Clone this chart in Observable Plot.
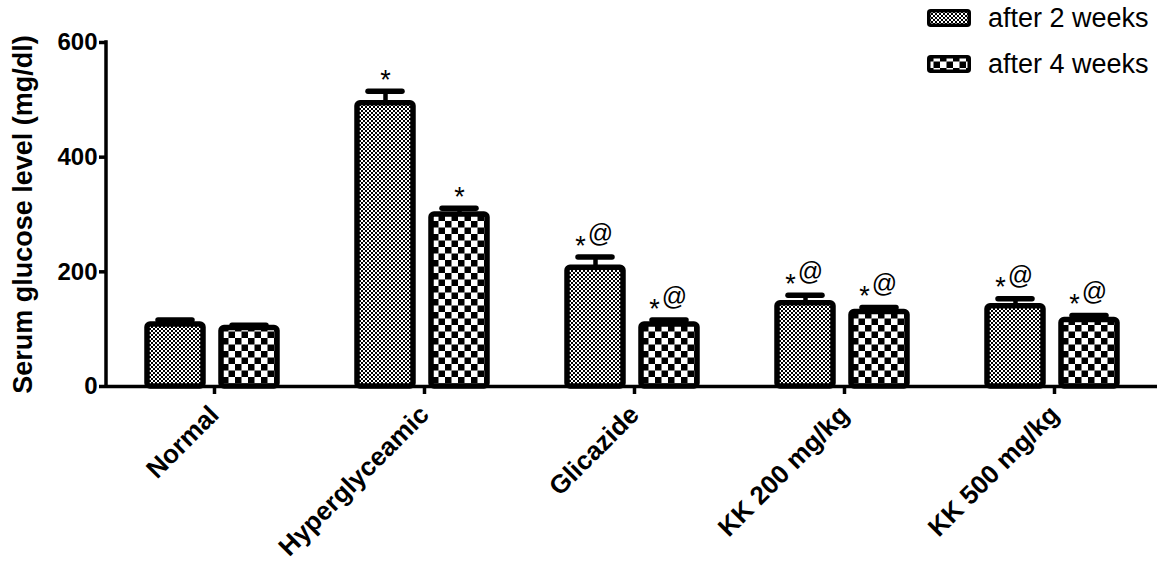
<!DOCTYPE html>
<html><head><meta charset="utf-8">
<script src="https://cdn.jsdelivr.net/npm/d3@7"></script>
<script src="https://cdn.jsdelivr.net/npm/@observablehq/plot@0.6"></script>
<style>
body{margin:0;background:#fff;}
#wrap{position:relative;width:1165px;height:567px;font-family:"Liberation Sans",Arial,sans-serif;overflow:hidden;}
#legend .sw{position:absolute;}
#legend .lb{position:absolute;font-size:27px;color:#000;white-space:nowrap;line-height:1;}
#chart svg g[aria-label="y-axis label"] text{font-size:27px;}
</style></head><body>
<svg width="0" height="0" style="position:absolute">
<defs>
<pattern id="fine" patternUnits="userSpaceOnUse" width="4" height="4">
<rect width="4" height="4" fill="#fff"/><rect width="2" height="2" fill="#000"/><rect x="2" y="2" width="2" height="2" fill="#000"/>
</pattern>
<pattern id="coarse" patternUnits="userSpaceOnUse" width="13" height="13">
<rect width="13" height="13" fill="#fff"/><rect width="6.5" height="6.5" fill="#000"/><rect x="6.5" y="6.5" width="6.5" height="6.5" fill="#000"/>
</pattern>
</defs></svg>
<div id="wrap"><div id="chart"></div><div id="legend"></div></div>
<script>
const groups = ["Normal", "Hyperglyceamic", "Glicazide", "KK 200 mg/kg", "KK 500 mg/kg"];
const periods = ["after 2 weeks", "after 4 weeks"];
const week2 = [108, 494, 207, 145, 140];
const week2Err = [8, 21, 19, 14, 13];
const week4 = [102, 300, 108, 130, 116];
const week4Err = [5, 11, 8, 8, 8];
const week2Star = ["", "*", "*", "*", "*"];
const week2At = ["", "", "@", "@", "@"];
const week4Star = ["", "*", "*", "*", "*"];
const week4At = ["", "", "@", "@", "@"];
const yTicks = [0, 200, 400, 600];
const patterns = ["url(#fine)", "url(#coarse)"];

const rows = [];
groups.forEach((g, i) => {
  rows.push({group: g, period: periods[0], value: week2[i], err: week2Err[i], star: week2Star[i], at: week2At[i]});
  rows.push({group: g, period: periods[1], value: week4[i], err: week4Err[i], star: week4Star[i], at: week4At[i]});
});
const errTop = d => d.value + d.err;
const starOnly = rows.filter(d => d.star && !d.at);
const starAt = rows.filter(d => d.star && d.at);

const plot = Plot.plot({
  width: 1165, height: 567,
  marginLeft: 106, marginRight: 7, marginTop: 42, marginBottom: 181,
  style: {fontFamily: "Liberation Sans, Arial, sans-serif", fontWeight: "bold", background: "#fff", color: "#000", overflow: "visible"},
  fx: {domain: groups, padding: 0, label: null},
  x: {domain: periods, axis: null, paddingInner: 0.24, paddingOuter: 0.523},
  y: {domain: [0, 600]},
  marks: [
    ...periods.map((p, i) => Plot.barY(rows.filter(d => d.period === p), {
      fx: "group", x: "period", y: "value", fill: patterns[i], stroke: "#000", strokeWidth: 5.5, rx: 3
    })),
    Plot.ruleX(rows, {fx: "group", x: "period", y1: "value", y2: errTop, stroke: "#000", strokeWidth: 4.5}),
    Plot.tickY(rows, {fx: "group", x: "period", y: errTop, stroke: "#000", strokeWidth: 5.5, strokeLinecap: "round", insetLeft: 11, insetRight: 11}),
    Plot.text(starOnly, {fx: "group", x: "period", y: errTop, text: "star", dy: -11, fontSize: 27, fontWeight: "normal"}),
    Plot.text(starAt, {fx: "group", x: "period", y: errTop, text: "star", dx: -15, dy: -11, fontSize: 27, fontWeight: "normal"}),
    Plot.text(starAt, {fx: "group", x: "period", y: errTop, text: "at", dx: 5, dy: -23, fontSize: 25, fontWeight: "normal"}),
    Plot.ruleY([0], {stroke: "#000", strokeWidth: 3.5}),
    Plot.axisY({ticks: yTicks, tickSize: 8, tickPadding: 2, tickFormat: d => String(d), fontSize: 24, strokeWidth: 3.5,
      label: "Serum glucose level (mg/dl)", labelAnchor: "center", labelOffset: 95, labelArrow: "none"}),
    Plot.axisFx({anchor: "bottom", tickSize: 8, tickPadding: 16, tickRotate: -45, fontSize: 26, strokeWidth: 3.5, label: null, dx: 2})
  ]
});
document.getElementById("chart").appendChild(plot);

// y-axis line drawn from the y scale
const ys = plot.scale("y");
d3.select(plot).append("line")
  .attr("x1", 106).attr("x2", 106)
  .attr("y1", ys.apply(0) + 1.75).attr("y2", ys.apply(600) - 1.75)
  .attr("stroke", "#000").attr("stroke-width", 3.5);

// legend
const legend = document.getElementById("legend");
const legTops = [9, 55];
periods.forEach((p, i) => {
  const sw = document.createElementNS("http://www.w3.org/2000/svg", "svg");
  sw.setAttribute("class", "sw");
  sw.setAttribute("width", 44); sw.setAttribute("height", 18);
  sw.style.left = "927px"; sw.style.top = legTops[i] + "px";
  sw.innerHTML = `<rect x="1.75" y="1.75" width="40.5" height="14.5" rx="2" fill="${patterns[i]}" stroke="#000" stroke-width="3.5"/>`;
  legend.appendChild(sw);
  const lb = document.createElement("div");
  lb.className = "lb"; lb.textContent = p;
  lb.style.left = "988px"; lb.style.top = (legTops[i] - 4) + "px";
  legend.appendChild(lb);
});
</script>
</body></html>
